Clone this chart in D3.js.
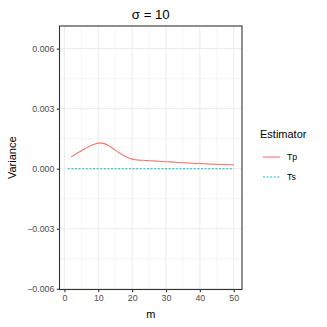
<!DOCTYPE html>
<html>
<head>
<meta charset="utf-8">
<script src="https://cdn.jsdelivr.net/npm/d3@7"></script>
<style>
  body { margin: 0; background: #fff; }
  text { font-family: "Liberation Sans", Arial, sans-serif; }
</style>
</head>
<body>
<div id="chart"></div>
<script>
const title = 'σ = 10';
const mTs = d3.range(1, 51);
const tsValues = mTs.map(() => 0);
const mTp = d3.range(2, 51);
const tpValues = [
  0.00060, 0.00070, 0.00080, 0.00090, 0.00100, 0.00109, 0.00117, 0.00123, 0.00128,
  0.00128, 0.00124, 0.00116, 0.00105, 0.00093, 0.00081, 0.00070, 0.00061, 0.00053,
  0.00048, 0.00045, 0.00043, 0.00042, 0.00041, 0.00040, 0.00039, 0.00038, 0.00037,
  0.00036, 0.00035, 0.00034, 0.00033, 0.00032, 0.00031, 0.00030, 0.00029, 0.00028,
  0.00027, 0.00026, 0.00026, 0.00025, 0.00024, 0.00023, 0.00023, 0.00022, 0.00021,
  0.00021, 0.00020, 0.00020, 0.00019
];
const xTicks = [0, 10, 20, 30, 40, 50];
const yTicks = [-0.006, -0.003, 0, 0.003, 0.006];
const seriesNames = ['Tp', 'Ts'];
const seriesColors = ['#F8766D', '#00BFC4'];

const width = 327;
const height = 327;
const margin = { top: 26, right: 85, bottom: 37.5, left: 59.5 };

const svg = d3.select('#chart')
  .append('svg')
  .attr('width', width)
  .attr('height', height);

const x = d3.scaleLinear()
  .domain([-1.45, 52.45])
  .range([margin.left, width - margin.right]);

const y = d3.scaleLinear()
  .domain([-0.006035, 0.00713])
  .range([height - margin.bottom, margin.top]);

const pw = width - margin.right - margin.left;
const ph = height - margin.bottom - margin.top;

// grid
const grid = svg.append('g');
const xMinor = [5, 15, 25, 35, 45];
const yMinor = [-0.0045, -0.0015, 0.0015, 0.0045];
grid.selectAll('.xmin').data(xMinor).join('line')
  .attr('x1', d => x(d)).attr('x2', d => x(d))
  .attr('y1', margin.top).attr('y2', margin.top + ph)
  .attr('stroke', '#ebebeb').attr('stroke-width', 0.5);
grid.selectAll('.ymin').data(yMinor).join('line')
  .attr('y1', d => y(d)).attr('y2', d => y(d))
  .attr('x1', margin.left).attr('x2', margin.left + pw)
  .attr('stroke', '#ebebeb').attr('stroke-width', 0.5);
grid.selectAll('.xmaj').data(xTicks).join('line')
  .attr('x1', d => x(d)).attr('x2', d => x(d))
  .attr('y1', margin.top).attr('y2', margin.top + ph)
  .attr('stroke', '#ebebeb').attr('stroke-width', 1);
grid.selectAll('.ymaj').data(yTicks).join('line')
  .attr('y1', d => y(d)).attr('y2', d => y(d))
  .attr('x1', margin.left).attr('x2', margin.left + pw)
  .attr('stroke', '#ebebeb').attr('stroke-width', 1);

// lines
const line = d3.line().x(d => x(d[0])).y(d => y(d[1]));
svg.append('path')
  .datum(mTs.map((m, i) => [m, tsValues[i]]))
  .attr('d', line)
  .attr('fill', 'none')
  .attr('stroke', seriesColors[1])
  .attr('stroke-width', 1.1)
  .attr('stroke-dasharray', '2,1.6');
svg.append('path')
  .datum(mTp.map((m, i) => [m, tpValues[i]]))
  .attr('d', d3.line().curve(d3.curveMonotoneX).x(d => x(d[0])).y(d => y(d[1])))
  .attr('fill', 'none')
  .attr('stroke', seriesColors[0])
  .attr('stroke-width', 1.1);

// border
svg.append('rect')
  .attr('x', margin.left).attr('y', margin.top)
  .attr('width', pw).attr('height', ph)
  .attr('fill', 'none').attr('stroke', '#333333').attr('stroke-width', 1.1);

// axes
const xAxis = svg.append('g')
  .attr('transform', `translate(0,${margin.top + ph})`)
  .call(d3.axisBottom(x).tickValues(xTicks).tickSize(2.7).tickPadding(2.5));
const yAxis = svg.append('g')
  .attr('transform', `translate(${margin.left},0)`)
  .call(d3.axisLeft(y).tickValues(yTicks).tickSize(2.7).tickPadding(2.5)
    .tickFormat(d => (d < 0 ? '\u2212' : '') + Math.abs(d).toFixed(3)));
[xAxis, yAxis].forEach(a => {
  a.select('.domain').remove();
  a.selectAll('.tick line').attr('stroke', '#333333').attr('stroke-width', 1.1);
  a.selectAll('.tick text').attr('fill', '#4d4d4d').attr('font-size', 8.8)
    .attr('font-family', '"Liberation Sans", Arial, sans-serif');
});

// labels
svg.append('text')
  .attr('x', margin.left + pw / 2).attr('y', 19)
  .attr('text-anchor', 'middle').attr('font-size', 13.2).attr('fill', '#000')
  .text(title);
svg.append('text')
  .attr('x', margin.left + pw / 2).attr('y', 318)
  .attr('text-anchor', 'middle').attr('font-size', 11).attr('fill', '#000')
  .text('m');
svg.append('text')
  .attr('transform', `translate(16,${margin.top + ph / 2}) rotate(-90)`)
  .attr('text-anchor', 'middle').attr('font-size', 11).attr('fill', '#000')
  .text('Variance');

// legend
const legend = svg.append('g').attr('transform', 'translate(260,0)');
legend.append('text')
  .attr('x', 0).attr('y', 138)
  .attr('font-size', 11).attr('fill', '#000')
  .text('Estimator');
seriesNames.forEach((name, i) => {
  const ly = 157 + i * 20;
  legend.append('line')
    .attr('x1', 3).attr('x2', 20).attr('y1', ly).attr('y2', ly)
    .attr('stroke', seriesColors[i]).attr('stroke-width', 1.1)
    .attr('stroke-dasharray', i === 1 ? '2,1.6' : null);
  legend.append('text')
    .attr('x', 27).attr('y', ly + 3.2)
    .attr('font-size', 8.8).attr('fill', '#000')
    .text(name);
});
</script>
</body>
</html>
